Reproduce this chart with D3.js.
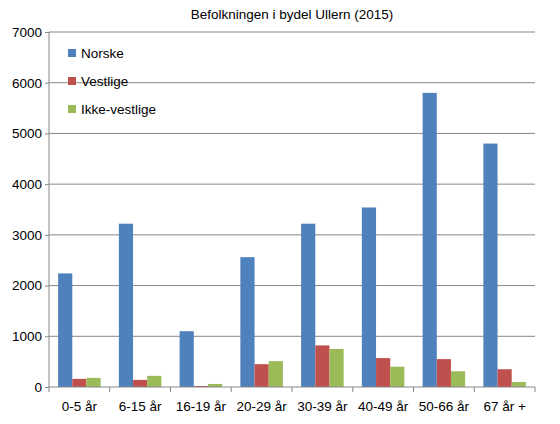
<!DOCTYPE html>
<html><head><meta charset="UTF-8">
<script src="https://cdn.jsdelivr.net/npm/d3@7"></script>
<style>body{margin:0;background:#fff;font-family:"Liberation Sans",sans-serif}</style>
</head><body>
<script>
const categories = ["0-5 år","6-15 år","16-19 år","20-29 år","30-39 år","40-49 år","50-66 år","67 år +"];
const seriesNames = ["Norske","Vestlige","Ikke-vestlige"];
const norske = [2240,3220,1100,2560,3220,3540,5800,4800];
const vestlige = [160,140,20,450,820,570,550,350];
const ikkeVestlige = [180,220,60,510,750,400,310,100];
const yTicks = [0,1000,2000,3000,4000,5000,6000,7000];
const colors = ["#4f81bd","#c0504d","#9bbb59"];
const series = [norske, vestlige, ikkeVestlige];

const W = 560, H = 424, m = {l:49, r:25, t:32, b:37};
const svg = d3.select("body").append("svg").attr("width",W).attr("height",H);
const x = d3.scaleBand().domain(categories).range([m.l, W-m.r]).paddingInner(0.3).paddingOuter(0.15);
const y = d3.scaleLinear().domain([0,7000]).range([H-m.b, m.t]);
const xs = d3.scaleBand().domain(seriesNames).range([0, x.bandwidth()]);

svg.append("g").selectAll("line").data(yTicks.slice(1)).join("line")
  .attr("x1",m.l).attr("x2",W-m.r).attr("y1",d=>y(d)).attr("y2",d=>y(d)).attr("stroke","#878787");

series.forEach((vals,si)=>{
  svg.append("g").selectAll("rect").data(vals).join("rect")
    .attr("x",(d,i)=>x(categories[i])+xs(seriesNames[si]))
    .attr("width",xs.bandwidth()).attr("y",d=>y(d)).attr("height",d=>y(0)-y(d))
    .attr("fill",colors[si]);
});

const ya = svg.append("g").attr("transform",`translate(${m.l},0)`)
  .call(d3.axisLeft(y).tickValues(yTicks).tickSize(4).tickFormat(d3.format("d")));
const outer = d3.scalePoint().domain(d3.range(categories.length+1)).range([m.l, W-m.r]);
const xa = svg.append("g").attr("transform",`translate(0,${y(0)})`)
  .call(d3.axisBottom(x).tickSize(0).tickPadding(14));
svg.append("g").selectAll("line").data(d3.range(categories.length+1)).join("line")
  .attr("x1",d=>outer(d)).attr("x2",d=>outer(d)).attr("y1",y(0)).attr("y2",y(0)+5).attr("stroke","#878787");
[ya,xa].forEach(a=>{a.selectAll("path,line").attr("stroke","#878787");
  a.selectAll("text").attr("font-size",13.5).attr("fill","#000").attr("font-family","Liberation Sans, sans-serif");});
ya.select(".domain").attr("d",`M0,${y(7000)}V${y(0)}`);
xa.select(".domain").attr("d",`M${m.l},0H${W-m.r}`);

svg.append("text").attr("x",(m.l+W-m.r)/2).attr("y",19).attr("text-anchor","middle")
  .attr("font-size",13.5).text("Befolkningen i bydel Ullern (2015)");

const lg = svg.append("g").selectAll("g").data(seriesNames).join("g")
  .attr("transform",(d,i)=>`translate(68,${49+i*28})`);
lg.append("rect").attr("width",8).attr("height",8).attr("fill",(d,i)=>colors[i]);
lg.append("text").attr("x",13).attr("y",9).attr("font-size",13.5).text(d=>d);
</script>
</body></html>
